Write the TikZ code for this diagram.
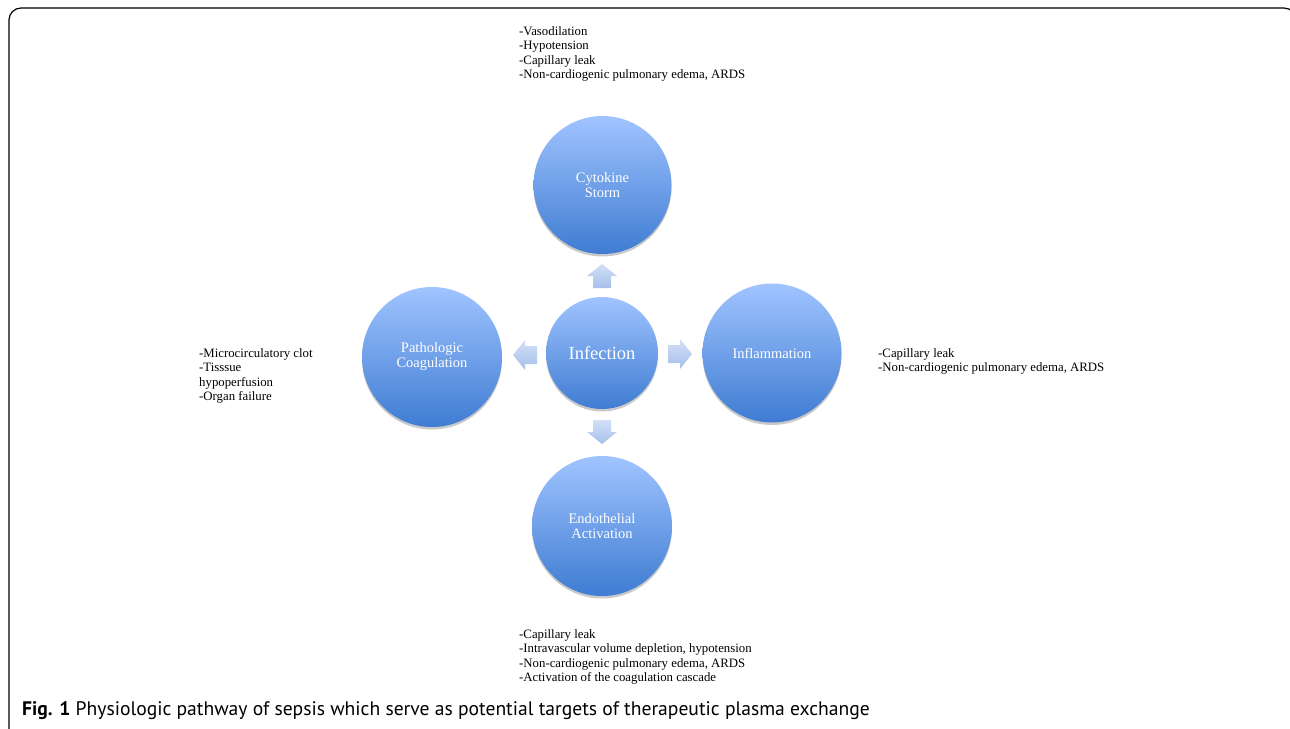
\documentclass[tikz,border=0pt]{standalone}
\usepackage{fontspec}
\setmainfont{Liberation Serif}
\newfontfamily\capfont{PT Sans}
\usetikzlibrary{shadows}
\definecolor{ctop}{HTML}{A0C4FF}
\definecolor{cbot}{HTML}{3F7CD2}
\definecolor{atop}{HTML}{D2E0F7}
\definecolor{abot}{HTML}{A6BFEA}
\tikzset{
  bubble/.style={circle, minimum size=#1, inner sep=0pt, top color=ctop, bottom color=cbot, draw=none,
    drop shadow={shadow xshift=0pt, shadow yshift=-2.5pt, opacity=0.3, fill=black!70},
    text=white, align=center, font=\fontsize{14.5}{15}\selectfont},
  blockarrow/.style={top color=atop, bottom color=abot, draw=none},
  effects/.style={anchor=north west, inner sep=0pt, align=left, font=\fontsize{12.8}{14.6}\selectfont},
}
% block arrow pointing along local +x, centred at the origin of its scope
\newcommand{\blockarr}[3]{%
  \begin{scope}[shift={(#1,#2)}, rotate=#3]
    \path[blockarrow] (-12,-9) -- (0,-9) -- (0,-15) -- (12,0) -- (0,15) -- (0,9) -- (-12,9) -- cycle;
  \end{scope}}
\begin{document}
\begin{tikzpicture}[x=1pt,y=-1pt]
\useasboundingbox (0,0) rectangle (1290,728);
\clip (0,0) rectangle (1290,728);
\draw[line width=1.2pt, rounded corners=12pt] (9,8) rectangle (1296,780);

\node[bubble=138pt] (cyto) at (602.5,185) {Cytokine\\Storm};
\node[bubble=112pt, font=\fontsize{18.5}{20}\selectfont] (inf) at (602,353) {Infection};
\node[bubble=140pt] (patho) at (432,357) {Pathologic\\Coagulation};
\node[bubble=139pt] (infl) at (772,353) {Inflammation};
\node[bubble=140pt] (endo) at (602,526) {Endothelial\\Activation};

\blockarr{602}{276}{90}
\blockarr{602}{432}{-90}
\blockarr{525}{355}{180}
\blockarr{680}{354}{0}

\node[effects] (tcyto) at (519,26) {-Vasodilation\\-Hypotension\\-Capillary leak\\-Non-cardiogenic pulmonary edema, ARDS};
\node[effects] (tpatho) at (199,348) {-Microcirculatory clot\\-Tisssue\\hypoperfusion\\-Organ failure};
\node[effects] (tinfl) at (878,348) {-Capillary leak\\-Non-cardiogenic pulmonary edema, ARDS};
\node[effects] (tendo) at (519,629) {-Capillary leak\\-Intravascular volume depletion, hypotension\\-Non-cardiogenic pulmonary edema, ARDS\\-Activation of the coagulation cascade};

\node[anchor=west, inner sep=0pt, font=\capfont\fontsize{19.6}{21}\selectfont] (cap) at (22,711) {\textbf{Fig. 1} Physiologic pathway of sepsis which serve as potential targets of therapeutic plasma exchange};
\end{tikzpicture}
\end{document}
